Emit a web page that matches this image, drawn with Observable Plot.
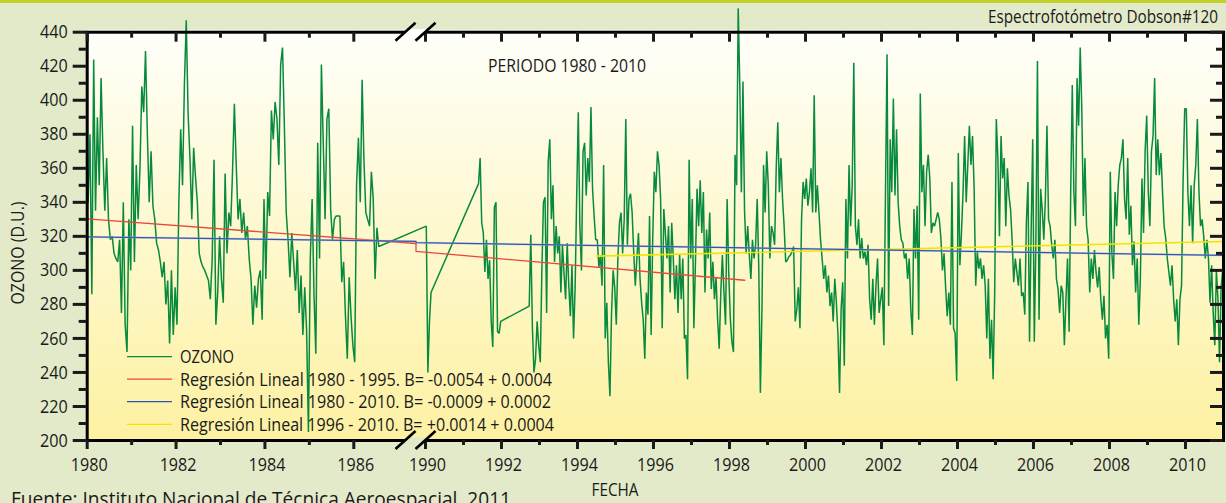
<!DOCTYPE html>
<html>
<head>
<meta charset="utf-8">
<script src="https://cdn.jsdelivr.net/npm/d3@7"></script>
<script src="https://cdn.jsdelivr.net/npm/@observablehq/plot@0.6"></script>
<style>
html, body { margin: 0; padding: 0; background: #e2eac9; }
#chart { position: relative; width: 1226px; height: 503px; overflow: hidden; background: #e2eac9; }
#chart svg { display: block; }
</style>
</head>
<body>
<div id="chart"></div>
<script>
// ---------------- DATA ----------------
// Ozone total column (D.U.), ~24 readings per year (null = no data)
const oz1980 = [340,380,286,424,335,390,350,413,370,335,366,330,318,320,310,307,305,318,275,340,268,252,330,300];
const oz1981 = [385,305,362,330,360,408,393,429,380,340,370,338,330,316,312,305,296,305,280,294,257,300,262,290];
const oz1982 = [268,340,383,350,409,447,392,366,330,372,355,340,310,305,302,300,297,294,283,306,365,268,287,320];
const oz1983 = [295,281,357,310,334,326,358,398,362,330,342,322,334,318,326,307,295,268,291,278,295,300,271,342];
const oz1984 = [295,346,332,394,377,399,389,362,421,431,385,334,318,296,322,305,288,312,275,297,262,290,265,205];
const oz1985 = [307,342,286,251,375,307,421,375,330,389,395,336,318,330,332,332,332,293,305,273,248,296,273,256];
const oz1986 = [246,350,378,340,412,364,334,330,326,358,342,295,325,314,null,null,null,null,null,null,null,null,null,null];
const oz1990 = [326,240,270,287,null,null,null,null,null,null,null,null,null,null,null,null,null,null,null,null,null,null,null,null];
const oz1991 = [null,null,null,null,null,null,null,null,null,351,366,328,322,299,318,295,306,270,255,337,340,264,263,270];
const oz1992 = [null,null,null,null,null,null,null,null,null,null,null,null,null,null,null,null,null,279,321,267,240,248,270,256];
const oz1993 = [246,300,340,343,275,364,377,330,350,305,326,310,320,287,315,298,283,316,291,273,303,260,290,344];
const oz1994 = [393,326,300,370,375,344,366,352,396,348,332,318,318,302,309,291,362,260,281,246,226,275,300,290];
const oz1995 = [268,307,328,334,310,330,389,315,342,345,334,311,291,307,322,295,281,271,248,287,274,332,262,318];
const oz1996 = [358,346,370,362,342,266,336,322,307,326,287,328,307,283,303,275,309,283,307,260,262,236,365,307];
const oz1997 = [342,266,305,348,326,353,322,346,287,324,307,334,289,305,283,296,271,254,287,309,287,268,342,299];
const oz1998 = [272,258,252,368,350,454,409,346,411,335,310,326,309,295,318,307,315,342,301,228,277,362,334,370];
const oz1999 = [350,307,326,322,315,360,387,346,366,342,326,305,306,308,309,311,314,270,277,290,266,330,352,342];
const oz2000 = [354,338,346,360,334,403,334,350,334,318,307,295,303,287,297,279,287,270,295,281,262,228,277,293];
const oz2001 = [244,342,307,362,326,350,422,326,315,330,307,319,307,311,303,315,283,271,295,268,291,307,275,283];
const oz2002 = [290,256,344,427,279,377,346,401,344,383,340,326,318,316,307,310,295,307,277,262,336,307,338,271];
const oz2003 = [404,346,362,326,358,368,354,322,328,326,330,334,330,319,300,310,290,273,287,268,352,266,263,235];
const oz2004 = [369,303,322,346,379,340,362,385,362,379,348,291,311,301,307,295,303,291,260,295,248,271,236,287];
const oz2005 = [389,366,320,379,354,366,326,360,344,336,318,293,307,299,291,307,285,287,274,328,352,258,322,377];
const oz2006 = [258,316,423,271,348,336,318,342,385,330,326,315,307,318,295,289,275,291,287,256,283,307,264,346];
const oz2007 = [409,346,326,413,385,431,395,332,366,326,318,287,307,295,312,299,290,302,283,271,285,260,268,248];
const oz2008 = [358,310,295,346,326,350,362,366,377,342,330,366,321,338,303,317,287,307,268,295,354,322,370,391];
const oz2009 = [346,326,370,379,413,356,377,356,369,346,326,319,307,299,291,303,283,270,283,256,283,291,354,395];
const oz2010 = [395,346,326,350,316,350,362,389,346,326,330,320,307,318,307,281,303,275,256,300,283,246,290,300];

const ozoneYears = [1980,1981,1982,1983,1984,1985,1986,1990,1991,1992,1993,1994,1995,1996,1997,1998,1999,2000,2001,2002,2003,2004,2005,2006,2007,2008,2009,2010];
const ozoneRows  = [oz1980,oz1981,oz1982,oz1983,oz1984,oz1985,oz1986,oz1990,oz1991,oz1992,oz1993,oz1994,oz1995,oz1996,oz1997,oz1998,oz1999,oz2000,oz2001,oz2002,oz2003,oz2004,oz2005,oz2006,oz2007,oz2008,oz2009,oz2010];

// Linear regressions (end points)
const reg8095Dates  = [1980, 1987.4, 1989.75, 1998.4];
const reg8095Values = [330.3, 315.8, 311.2, 294.2];
const reg8010Dates  = [1980, 1987.4, 1989.75, 2011];
const reg8010Values = [319.7, 317.1, 316.3, 308.8];
const reg9610Dates  = [1994.5, 2011];
const reg9610Values = [308.4, 317.0];

// Axis ticks
const yMajor = [200,220,240,260,280,300,320,340,360,380,400,420,440];
const yMinor = [210,230,250,270,290,310,330,350,370,390,410,430];
const xMajor = [1980,1982,1984,1986,1990,1992,1994,1996,1998,2000,2002,2004,2006,2008,2010];
const xMinor = [1981,1983,1985,1991,1993,1995,1997,1999,2001,2003,2005,2007,2009];

// Broken time axis: 1987.4 .. 1989.75 is collapsed
const xDomain = [1980, 1987.4, 1989.75, 2011];

const legendLabels = [
  "OZONO",
  "Regresión Lineal 1980 - 1995. B= -0.0054 + 0.0004",
  "Regresión Lineal 1980 - 2010. B= -0.0009 + 0.0002",
  "Regresión Lineal 1996 - 2010. B= +0.0014 + 0.0004"
];

// ---------------- BUILD TABLES ----------------
const ozone = [];
ozoneYears.forEach((yr, k) => {
  ozoneRows[k].forEach((v, i) => { if (v != null) ozone.push({date: yr + (i + 0.5) / 24, value: v}); });
});
const toRows = (ds, vs) => ds.map((d, i) => ({date: d, value: vs[i]}));
const reg8095 = toRows(reg8095Dates, reg8095Values);
const reg8010 = toRows(reg8010Dates, reg8010Values);
const reg9610 = toRows(reg9610Dates, reg9610Values);

// ---------------- STYLE / LAYOUT ----------------
const W = 1226, H = 503;
const pLeft = 86.7, pRight = 1223, pTop = 31.7, pBottom = 440, breakPx = 415.5;
const GREEN = "#078a3e", RED = "#e8483c", BLUE = "#2f55b5", YELLOW = "#f2e400";
const fmt = d => `${d}`;

const chart = Plot.plot({
  width: W, height: H,
  marginLeft: pLeft, marginRight: W - pRight, marginTop: pTop, marginBottom: H - pBottom,
  style: {background: "transparent", fontFamily: "'Open Sans', sans-serif", fontSize: "19px", color: "#1a1a1a", overflow: "visible"},
  x: {type: "linear", domain: xDomain, range: [pLeft, breakPx, breakPx, pRight]},
  y: {type: "linear", domain: [200, 440], range: [pBottom, pTop]},
  marks: [
    Plot.line(ozone, {x: "date", y: "value", stroke: GREEN, strokeWidth: 1.5, strokeLinejoin: "miter"}),
    Plot.line(reg8095, {x: "date", y: "value", stroke: RED, strokeWidth: 1.3}),
    Plot.line(reg9610, {x: "date", y: "value", stroke: YELLOW, strokeWidth: 1.6}),
    Plot.line(reg8010, {x: "date", y: "value", stroke: "#b7bfcc", strokeWidth: 2.2, strokeOpacity: 0.5}),
    Plot.line(reg8010, {x: "date", y: "value", stroke: BLUE, strokeWidth: 1.2}),
    Plot.frame({stroke: "#000", strokeWidth: 3}),
    // left axis
    Plot.axisY({ticks: yMajor, anchor: "left", tickSize: 14, strokeWidth: 3, text: null, label: null}),
    Plot.axisY({ticks: yMinor, anchor: "left", tickSize: 8, strokeWidth: 3, text: null, label: null}),
    Plot.axisY({ticks: yMajor, anchor: "left", tickSize: 0, tickPadding: 19.5, tickFormat: fmt, label: null, fill: "#1a1a1a"}),
    // right axis, ticks pointing inward
    Plot.axisY({ticks: yMajor, anchor: "left", tickSize: 13, strokeWidth: 3, text: null, label: null, dx: pRight - pLeft}),
    Plot.axisY({ticks: yMinor, anchor: "left", tickSize: 7, strokeWidth: 3, text: null, label: null, dx: pRight - pLeft}),
    // top axis, ticks pointing inward
    Plot.axisX({ticks: xMajor, anchor: "bottom", tickSize: 10, strokeWidth: 3, text: null, label: null, dy: -(pBottom - pTop)}),
    Plot.axisX({ticks: xMinor, anchor: "bottom", tickSize: 6, strokeWidth: 3, text: null, label: null, dy: -(pBottom - pTop)}),
    // bottom axis
    Plot.axisX({ticks: xMajor, anchor: "bottom", tickSize: 9, strokeWidth: 3, text: null, label: null}),
    Plot.axisX({ticks: xMinor, anchor: "bottom", tickSize: 5, strokeWidth: 3, text: null, label: null}),
    Plot.axisX({ticks: xMajor, anchor: "bottom", tickSize: 0, tickPadding: 17, tickFormat: fmt, label: null, dx: 2, fill: "#1a1a1a"})
  ]
});

document.getElementById("chart").appendChild(chart);

const svg = d3.select(chart);
const xs = chart.scale("x"), ys = chart.scale("y");
const x0 = xs.apply(1980), x1 = xs.apply(2011), y0 = ys.apply(440), y1 = ys.apply(200);

// gradient background of the plotting area (behind everything)
const defs = svg.insert("defs", ":first-child");
const grad = defs.append("linearGradient").attr("id", "plotBg").attr("x1", 0).attr("y1", 0).attr("x2", 0).attr("y2", 1);
grad.append("stop").attr("offset", "0%").attr("stop-color", "#fffffa");
grad.append("stop").attr("offset", "100%").attr("stop-color", "#fdf1a2");
svg.insert("rect", "defs + *").attr("x", x0).attr("y", y0 - 2).attr("width", x1 - x0).attr("height", y1 - y0 + 2).attr("fill", "url(#plotBg)");
svg.insert("rect", "defs + *").attr("x", 0).attr("y", 0).attr("width", W).attr("height", 3).attr("fill", "#c2d22a");

// condense tick labels (narrow humanist face in the reference)
chart.querySelectorAll('g[aria-label="y-axis tick label"] text, g[aria-label="x-axis tick label"] text').forEach(t => {
  const L = t.getComputedTextLength();
  t.setAttribute("textLength", (L * 0.85).toFixed(1));
  t.setAttribute("lengthAdjust", "spacingAndGlyphs");
});

// axis break marks
const bx = xs.apply(1987.4);
[[y0, "#ffffff"], [y1, "#e2eac9"]].forEach(([yy, bg]) => {
  const c1 = bx - 10, c2 = bx + 10;
  svg.append("polygon")
    .attr("points", `${c1 + 2.8},${yy - 2.6} ${c2 + 2.8},${yy - 2.6} ${c2 - 2.8},${yy + 2.6} ${c1 - 2.8},${yy + 2.6}`)
    .attr("fill", bg);
  [c1, c2].forEach(c => svg.append("line")
    .attr("x1", c - 10).attr("y1", yy + 9).attr("x2", c + 10).attr("y2", yy - 9)
    .attr("stroke", "#000").attr("stroke-width", 2.6));
});

function addText(str, x, y, opts = {}) {
  const t = svg.append("text").text(str)
    .attr("x", x).attr("y", y)
    .attr("fill", "#1a1a1a")
    .attr("font-family", "'Open Sans', sans-serif")
    .attr("font-size", opts.size || 19)
    .attr("text-anchor", opts.anchor || "start");
  if (opts.transform) t.attr("transform", opts.transform);
  if (opts.len) t.attr("textLength", opts.len).attr("lengthAdjust", "spacingAndGlyphs");
  return t;
}

// legend (inside plot area)
const legendColors = [GREEN, RED, BLUE, YELLOW];
const legendRows = [356.7, 379.2, 401.7, 424.3];
const legendLens = [54, 372, 371, 374];
legendLabels.forEach((lab, i) => {
  svg.append("line").attr("x1", 127).attr("x2", 172).attr("y1", legendRows[i]).attr("y2", legendRows[i])
    .attr("stroke", legendColors[i]).attr("stroke-width", 1.3);
  addText(lab, 180, legendRows[i] + 6.6, {len: legendLens[i]});
});

// titles and labels
addText("PERIODO 1980 - 2010", 488, 71.7, {len: 158});
addText("Espectrofotómetro Dobson#120", 1218, 23.3, {anchor: "end", len: 230});
addText("FECHA", 615, 495.7, {anchor: "middle", len: 47});
addText("OZONO (D.U.)", 0, 0, {anchor: "middle", len: 103, transform: "translate(24,253) rotate(-90)"});
addText("Fuente: Instituto Nacional de Técnica Aeroespacial, 2011", 11, 506, {size: 20, len: 500});
</script>
</body>
</html>
